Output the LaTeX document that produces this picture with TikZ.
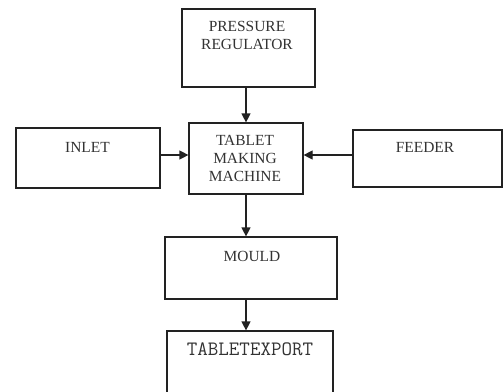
\documentclass[tikz,border=0pt]{standalone}
\usepackage{fontspec}
\setmainfont{Liberation Serif}
\usetikzlibrary{arrows.meta}
\definecolor{ink}{HTML}{222222}
\definecolor{txt}{HTML}{333333}
\tikzset{
  blk/.style={draw=ink, line width=1.2bp, rectangle, inner sep=0pt},
  lbl/.style={text=txt, font=\fontsize{15.5}{18.5}\selectfont, inner sep=0pt, align=center},
  mlbl/.style={text=txt, font=\ttfamily\fontsize{20.5}{22}\selectfont, inner sep=0pt},
  arr/.style={draw=ink, line width=1.2bp, -{Triangle[length=9bp,width=9bp]}}
}
\begin{document}
\begin{tikzpicture}[x=1bp,y=-1bp]
\useasboundingbox[fill=white] (0,0) rectangle (503,391);
% boxes
\node[blk, minimum width=133bp, minimum height=78bp] (pr) at (248.5,48) {};
\node[blk, minimum width=144bp, minimum height=60bp] (inlet) at (88,158) {};
\node[blk, minimum width=114bp, minimum height=71bp] (tmm) at (246,158.5) {};
\node[blk, minimum width=149bp, minimum height=57bp] (feeder) at (427.5,158.5) {};
\node[blk, minimum width=172bp, minimum height=62bp] (mould) at (251,268) {};
\node[blk, minimum width=166bp, minimum height=66bp] (te) at (250,364) {};
% labels
\node[lbl] (prt) at (247,35.5) {PRESSURE\\REGULATOR};
\node[lbl] (inlett) at (87.5,147) {INLET};
\node[lbl] (tmmt) at (245,158.5) {TABLET\\MAKING\\MACHINE};
\node[lbl] (feedert) at (425,147) {FEEDER};
\node[lbl] (mouldt) at (252,256) {MOULD};
\node[mlbl] (tet) at (250,349) {TABLETEXPORT};
% connectors
\coordinate (xv) at (246,0);
\coordinate (yh) at (0,155);
\draw[arr] (pr.south -| xv) -- (tmm.north -| xv);
\draw[arr] (tmm.south -| xv) -- (mould.north -| xv);
\draw[arr] (mould.south -| xv) -- (te.north -| xv);
\draw[arr] (inlet.east |- yh) -- (tmm.west |- yh);
\draw[arr] (feeder.west |- yh) -- (tmm.east |- yh);
\end{tikzpicture}
\end{document}
